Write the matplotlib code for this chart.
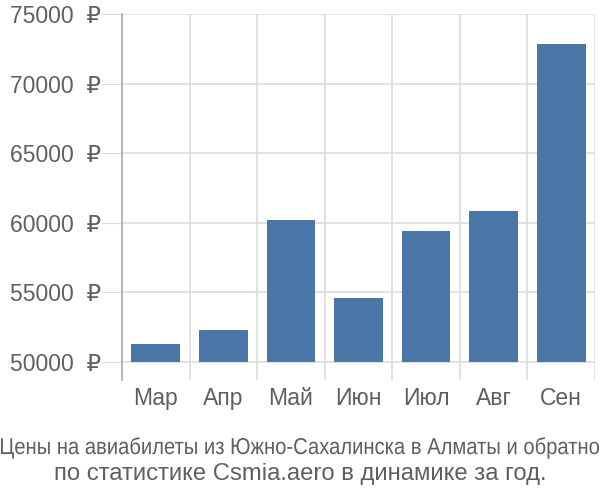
import numpy as np
import matplotlib.pyplot as plt
from matplotlib.textpath import TextPath
from matplotlib.patches import PathPatch
from matplotlib.font_manager import FontProperties
from matplotlib.transforms import Affine2D, IdentityTransform

plt.rcParams['font.family'] = ['Liberation Sans', 'DejaVu Sans']

months = ['Мар', 'Апр', 'Май', 'Июн', 'Июл', 'Авг', 'Сен']
prices = [51300, 52300, 60200, 54600, 59400, 60850, 72850]
yticks = [50000, 55000, 60000, 65000, 70000, 75000]
ytick_labels = ['%d  ₽' % v for v in yticks]
caption1 = 'Цены на авиабилеты из Южно-Сахалинска в Алматы и обратно'
caption2 = 'по статистике Csmia.aero в динамике за год.'

bar_color = '#4a76a8'
text_color = '#5f5f5f'
grid_color = '#dddddd'

fig = plt.figure(figsize=(6, 5), dpi=100)
ax = fig.add_axes([0.2033, 0.24, 0.7884, 0.732])

index = np.arange(len(months))
base = 50000
ax.bar(index, np.array(prices) - base, 0.72, bottom=base, color=bar_color, zorder=3)

ax.set_xlim(-0.5, len(months) - 0.5)
ax.set_ylim(48700, 75000)

ax.set_yticks(yticks)
ax.set_yticklabels(ytick_labels)
ax.set_xticks(index)
ax.set_xticklabels(months)
ax.set_xticks(np.arange(len(months) + 1) - 0.5, minor=True)

ax.tick_params(axis='y', length=15, color=grid_color, labelsize=16.5, labelcolor=text_color, pad=0)
ax.tick_params(axis='x', which='major', length=0, labelsize=16.5, labelcolor=text_color, pad=5)
ax.tick_params(axis='x', which='minor', length=0)

ax.grid(axis='y', color=grid_color, linewidth=1.2, zorder=0)
ax.grid(axis='x', which='minor', color=grid_color, linewidth=1.2, zorder=0)
ax.grid(axis='x', which='major', visible=False)

for side in ['top', 'right', 'bottom']:
    ax.spines[side].set_visible(False)
ax.spines['left'].set_color('#aaaaaa')
ax.spines['left'].set_linewidth(1.2)

# first caption line is squeezed to the full width, like in the original
tp = TextPath((0, 0), caption1, size=23, prop=FontProperties(family='Liberation Sans'))
ext = tp.get_extents()
sx = 598 / ext.width
tr = Affine2D().translate(-ext.x0 - ext.width / 2, -ext.y0 - ext.height / 2).scale(sx, 1).translate(300, 52)
fig.patches.append(PathPatch(tr.transform_path(tp), transform=IdentityTransform(),
                             facecolor=text_color, edgecolor='none', figure=fig))

fig.text(0.5, 0.052, caption2, ha='center', va='center', fontsize=17.2, color=text_color)

plt.savefig('out.png', dpi=100)
